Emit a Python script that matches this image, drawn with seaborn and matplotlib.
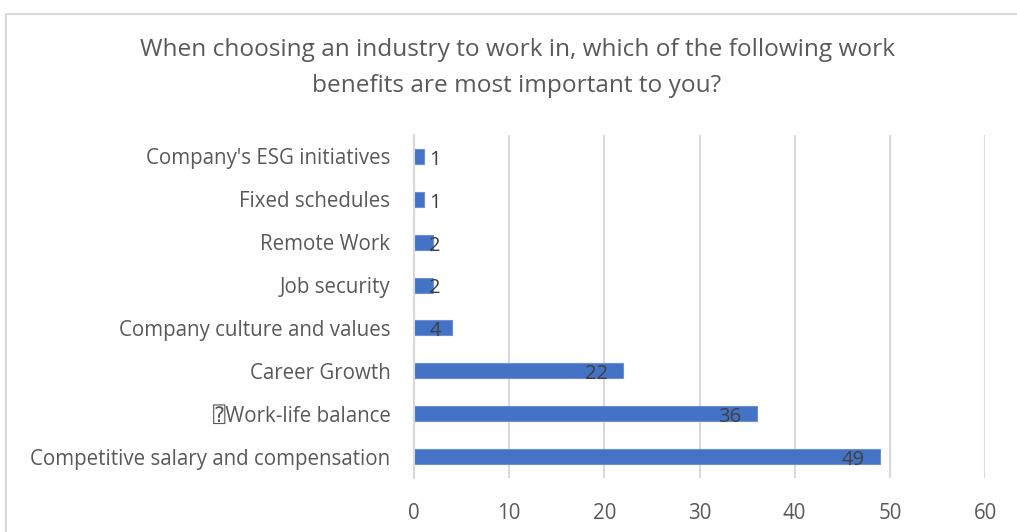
import matplotlib
matplotlib.use("Agg")
import matplotlib.pyplot as plt
import seaborn as sns
import pandas as pd
from matplotlib.patches import Rectangle

# Survey responses (top of chart first)
benefits = [
    "Company's ESG initiatives",
    "Fixed schedules",
    "Remote Work",
    "Job security",
    "Company culture and values",
    "Career Growth",
    "\u2370Work-life balance",
    "Competitive salary and compensation",
]
counts = [1, 1, 2, 2, 4, 22, 36, 49]
x_ticks = [0, 10, 20, 30, 40, 50, 60]

title = ("When choosing an industry to work in, which of the following work\n"
         "benefits are most important to you?")

sns.set_theme(style="white")
plt.rcParams["font.family"] = ["Open Sans", "DejaVu Sans", "DejaVu Sans Mono"]

BAR = "#4472C4"
TEXT = "#595959"
LABEL = "#404040"
GRID = "#D9D9D9"

fig = plt.figure(figsize=(10.17, 5.32), dpi=100)
ax = fig.add_axes([414 / 1017, 1 - 478 / 532, (985 - 414) / 1017, (478 - 135) / 532])

df = pd.DataFrame({"benefit": benefits, "count": counts})
sns.barplot(data=df, x="count", y="benefit", orient="h", color=BAR,
            saturation=1, width=0.35, edgecolor="#6A8FD4", linewidth=0.8, ax=ax)

ax.set_xlim(0, 60)
ax.set_xticks(x_ticks)
ax.set_xticklabels([str(t) for t in x_ticks])
ax.set_ylim(len(benefits) - 0.5, -0.5)
ax.set_xlabel("")
ax.set_ylabel("")

ax.grid(axis="x", color=GRID, linewidth=1.5)
ax.set_axisbelow(True)
for s in ["top", "right", "bottom"]:
    ax.spines[s].set_visible(False)
ax.spines["left"].set_color(GRID)
ax.spines["left"].set_linewidth(1.5)
ax.tick_params(axis="both", length=0, colors=TEXT, labelsize=14.8)
ax.tick_params(axis="y", pad=17)
ax.tick_params(axis="x", pad=18)

# value labels at the inner end of each bar
for i, v in enumerate(counts):
    if v >= 10:
        ax.text(v - 1.6, i + 0.08, str(v), ha="right", va="center",
                fontsize=14.5, color=LABEL)
    else:
        ax.text(1.6, i + 0.08, str(v), ha="left", va="center",
                fontsize=14.5, color=LABEL)

fig.text(517 / 1017, 1 - 68 / 532, title, ha="center", va="center",
         fontsize=17.6, color=TEXT, linespacing=1.72)

# chart-area frame
fig.patches.append(Rectangle((5.5 / 1017, -0.1), 1.2, 1 - 13.5 / 532 + 0.1,
                             transform=fig.transFigure, fill=False,
                             edgecolor=GRID, linewidth=1.5))

fig.savefig("out.png", dpi=100)
